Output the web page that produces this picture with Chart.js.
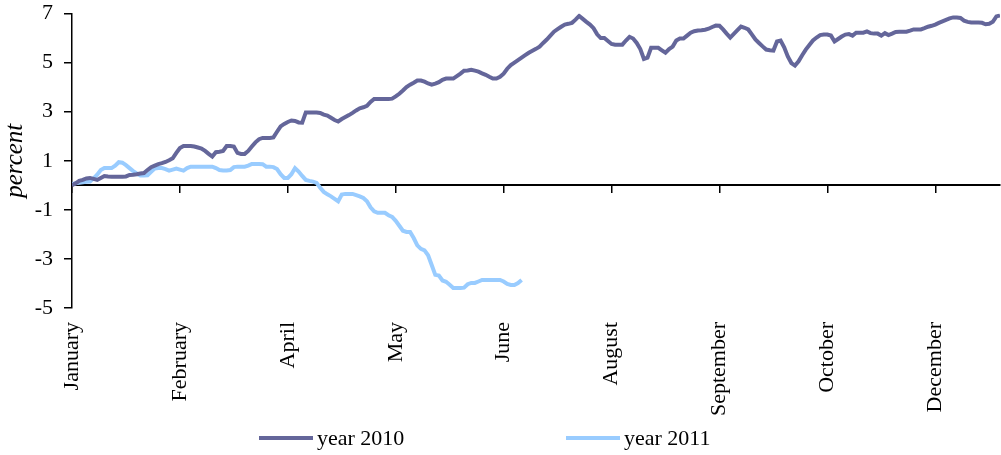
<!DOCTYPE html>
<html><head><meta charset="utf-8">
<script src="https://cdn.jsdelivr.net/npm/chart.js@4/dist/chart.umd.min.js"></script>
<style>html,body{margin:0;padding:0;background:#fff;}#wrap{width:1001px;height:455px;position:relative;}</style>
</head><body><div id="wrap"><canvas id="c"></canvas></div>
<script>
const seriesNames = ['year 2010', 'year 2011'];
const monthTicks = ['January','February','April','May','June','August','September','October','December'];
const tickEvery = 30;
const yTickValues = [-5, -3, -1, 1, 3, 5, 7];
const y2010 = [
0.00,0.08,0.18,0.22,0.28,0.30,0.26,0.22,0.30,0.38,
0.36,0.35,0.35,0.35,0.35,0.36,0.42,0.43,0.45,0.48,
0.50,0.62,0.74,0.80,0.86,0.90,0.95,1.02,1.10,1.32,
1.52,1.60,1.60,1.60,1.58,1.54,1.50,1.40,1.28,1.17,
1.35,1.37,1.40,1.60,1.60,1.58,1.32,1.28,1.28,1.40,
1.58,1.75,1.88,1.93,1.93,1.93,1.95,2.18,2.40,2.50,
2.58,2.64,2.62,2.56,2.55,2.97,2.97,2.97,2.97,2.95,
2.88,2.84,2.75,2.66,2.60,2.70,2.78,2.86,2.95,3.05,
3.14,3.18,3.24,3.40,3.52,3.52,3.52,3.52,3.52,3.53,
3.62,3.73,3.86,4.00,4.10,4.18,4.27,4.27,4.22,4.15,
4.10,4.14,4.20,4.30,4.35,4.35,4.35,4.45,4.55,4.67,
4.68,4.71,4.67,4.63,4.56,4.50,4.42,4.35,4.35,4.42,
4.55,4.75,4.90,5.00,5.10,5.20,5.30,5.40,5.48,5.56,
5.65,5.80,5.94,6.10,6.26,6.36,6.46,6.55,6.58,6.62,
6.75,6.90,6.78,6.66,6.55,6.40,6.15,6.00,6.00,5.88,
5.76,5.73,5.73,5.73,5.90,6.05,5.98,5.80,5.55,5.15,
5.20,5.60,5.60,5.60,5.50,5.40,5.55,5.65,5.90,5.98,
5.98,6.10,6.22,6.28,6.31,6.32,6.34,6.38,6.45,6.51,
6.50,6.35,6.18,6.02,6.17,6.32,6.47,6.42,6.35,6.15,
5.94,5.80,5.66,5.53,5.50,5.49,5.86,5.90,5.62,5.25,
4.98,4.88,5.05,5.30,5.53,5.72,5.90,6.02,6.12,6.14,
6.14,6.10,5.86,5.96,6.06,6.14,6.16,6.10,6.22,6.22,
6.22,6.27,6.20,6.18,6.18,6.10,6.20,6.12,6.18,6.25,
6.26,6.26,6.26,6.30,6.35,6.35,6.35,6.40,6.46,6.50,
6.55,6.62,6.68,6.74,6.80,6.84,6.84,6.82,6.71,6.66,
6.63,6.63,6.63,6.62,6.56,6.58,6.66,6.88,6.92
];
const y2011 = [
0.05,0.08,0.10,0.12,0.14,0.15,0.28,0.43,0.62,0.70,
0.70,0.70,0.80,0.94,0.92,0.82,0.70,0.58,0.48,0.40,
0.40,0.41,0.55,0.68,0.70,0.70,0.66,0.60,0.64,0.68,
0.64,0.60,0.70,0.76,0.76,0.76,0.76,0.76,0.76,0.76,
0.70,0.62,0.60,0.60,0.62,0.74,0.76,0.76,0.76,0.80,
0.87,0.87,0.87,0.86,0.76,0.76,0.74,0.66,0.45,0.30,
0.30,0.45,0.70,0.56,0.38,0.22,0.18,0.15,0.10,-0.10,
-0.27,-0.37,-0.45,-0.55,-0.65,-0.38,-0.35,-0.35,-0.35,-0.40,
-0.45,-0.52,-0.65,-0.90,-1.06,-1.12,-1.12,-1.12,-1.22,-1.29,
-1.45,-1.65,-1.85,-1.90,-1.90,-2.15,-2.45,-2.59,-2.65,-2.85,
-3.25,-3.65,-3.68,-3.88,-3.93,-4.05,-4.18,-4.18,-4.18,-4.17,
-4.03,-3.98,-3.98,-3.92,-3.86,-3.86,-3.86,-3.86,-3.86,-3.86,
-3.92,-4.02,-4.06,-4.06,-3.98,-3.86
];
const dayIndex = y2010.map((_, i) => i);
const lastDay = dayIndex[dayIndex.length - 1];

const FONT = '"Liberation Serif", "Times New Roman", serif';
const colors = ['#64669a', '#99ccff'];
const legendX = [259, 566];
const legendY = 438;

const refLegend = {
  id: 'refLegend',
  afterDraw(chart) {
    const ctx = chart.ctx;
    ctx.save();
    ctx.font = '22px ' + FONT;
    ctx.textBaseline = 'middle';
    ctx.textAlign = 'left';
    chart.data.datasets.forEach((ds, k) => {
      const x0 = legendX[k];
      ctx.strokeStyle = ds.borderColor;
      ctx.lineWidth = 4;
      ctx.beginPath();
      ctx.moveTo(x0, legendY);
      ctx.lineTo(x0 + 54, legendY);
      ctx.stroke();
      ctx.fillStyle = '#000';
      ctx.fillText(ds.label, x0 + 58, legendY + 1);
    });
    ctx.restore();
  }
};

new Chart(document.getElementById('c'), {
  type: 'line',
  data: {
    labels: dayIndex,
    datasets: [
      { label: seriesNames[0], data: y2010, borderColor: colors[0], backgroundColor: colors[0], borderWidth: 4, pointRadius: 0, tension: 0, xAxisID: 'x', yAxisID: 'y' },
      { label: seriesNames[1], data: y2011, borderColor: colors[1], backgroundColor: colors[1], borderWidth: 4, pointRadius: 0, tension: 0, xAxisID: 'x', yAxisID: 'y' }
    ]
  },
  options: {
    responsive: true,
    maintainAspectRatio: false,
    animation: false,
    layout: { padding: { top: 13.5, right: 1, bottom: 35, left: 0 } },
    plugins: { legend: { display: false }, tooltip: { enabled: false } },
    scales: {
      x: {
        type: 'linear', position: { y: 0 }, min: 0, max: lastDay,
        ticks: { display: false, stepSize: tickEvery, includeBounds: false },
        grid: { drawOnChartArea: false, drawTicks: true, tickLength: 7, color: '#000', lineWidth: 1.5 },
        border: { display: true, color: '#000', width: 2 }
      },
      x2: {
        type: 'linear', axis: 'x', position: 'bottom', min: 0, max: lastDay,
        grid: { display: false, drawTicks: false },
        border: { display: false },
        ticks: {
          stepSize: tickEvery, includeBounds: false, autoSkip: false,
          minRotation: 90, maxRotation: 90, padding: 14,
          color: '#000', font: { family: FONT, size: 22 },
          callback: (v) => monthTicks[Math.round(v / tickEvery)] ?? ''
        },
        afterFit: (s) => { s.height = 112; }
      },
      y: {
        type: 'linear', position: 'left', min: yTickValues[0], max: yTickValues[yTickValues.length - 1],
        afterBuildTicks: (s) => { s.ticks = yTickValues.map(v => ({ value: v })); },
        ticks: { color: '#000', font: { family: FONT, size: 22 }, padding: 11 },
        grid: { drawOnChartArea: false, drawTicks: true, tickLength: 8, color: '#000', lineWidth: 1.5 },
        border: { display: true, color: '#000', width: 1.5 },
        title: { display: true, text: 'percent', color: '#000', font: { family: FONT, size: 25, style: 'italic' }, padding: 0 },
        afterFit: (s) => { s.width = 72; s.paddingTop = 0; s.paddingBottom = 0; }
      }
    }
  },
  plugins: [refLegend]
});
</script>
</body></html>
